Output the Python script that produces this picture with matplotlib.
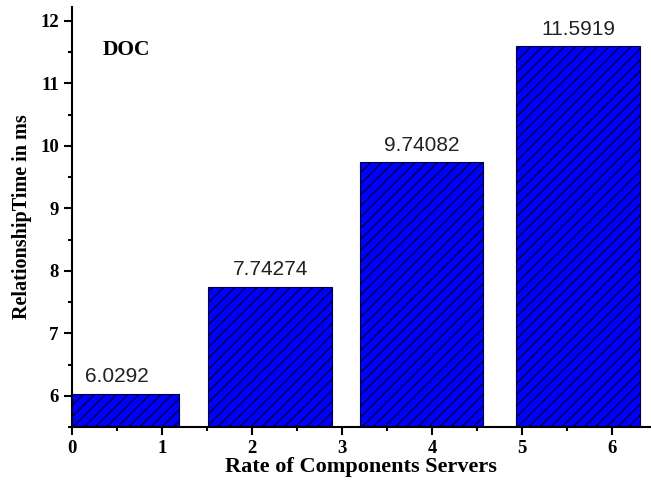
import matplotlib
matplotlib.use("Agg")
import matplotlib.pyplot as plt
from matplotlib.ticker import MultipleLocator

positions = [0.5, 2.2, 3.88, 5.62]
values = [6.0292, 7.74274, 9.74082, 11.5919]
labels = ["6.0292", "7.74274", "9.74082", "11.5919"]

plt.rcParams['hatch.linewidth'] = 1.0
plt.rcParams['hatch.color'] = '#000080'

fig = plt.figure(figsize=(6.51, 4.87), dpi=100)
ax = fig.add_axes([0.1106, 0.1232, 0.888, 0.862])

bars = ax.bar(positions, values, width=1.37, color='#0000ff', edgecolor='#000040',
              linewidth=0.8, hatch='///', bottom=0)
for p, v, t in zip(positions, values, labels):
    ax.text(p, v + 0.12, t, ha='center', va='bottom',
            fontsize=15, family='Liberation Sans', color='#222222')

ax.set_xlim(0, 6.42)
ax.set_ylim(5.5, 12.22)
ax.xaxis.set_major_locator(MultipleLocator(1))
ax.xaxis.set_minor_locator(MultipleLocator(0.5))
ax.yaxis.set_major_locator(MultipleLocator(1))
ax.yaxis.set_minor_locator(MultipleLocator(0.5))
for s in ['top', 'right']:
    ax.spines[s].set_visible(False)
for s in ['left', 'bottom']:
    ax.spines[s].set_linewidth(1.5)
ax.tick_params(which='major', direction='out', length=5.5, width=1.5, pad=4)
ax.tick_params(which='minor', direction='out', length=3, width=1.5)
for lab in ax.get_xticklabels() + ax.get_yticklabels():
    lab.set_family('Liberation Serif')
    lab.set_fontweight('bold')
    lab.set_fontsize(13.5)

ax.set_xlabel('Rate of Components Servers', family='Liberation Serif', fontweight='bold',
              fontsize=16, labelpad=0)
ax.set_ylabel('RelationshipTime in ms', family='Liberation Serif', fontweight='bold',
              fontsize=14.5, labelpad=6)
ax.text(0.34, 11.54, 'DOC', family='Liberation Serif', fontweight='bold', fontsize=15.5,
        ha='left', va='center')

fig.savefig('out.png', dpi=100)
